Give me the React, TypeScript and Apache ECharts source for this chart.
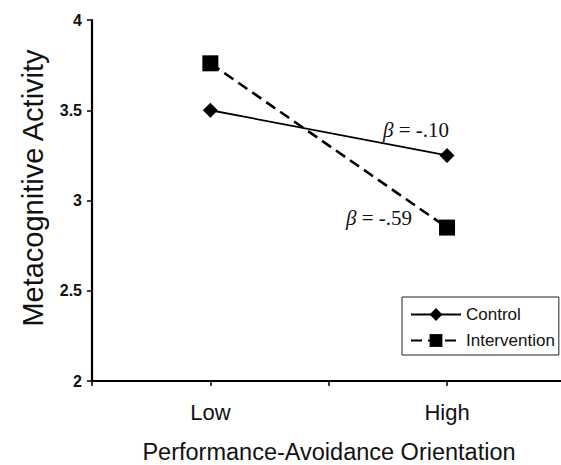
import React, { useEffect, useRef } from "react";
import * as echarts from "echarts";

const categories = ["Low", "High"];
const categoryPositions = [1, 3];
const controlValues = [3.5, 3.25];
const interventionValues = [3.76, 2.85];
const yTicks = [2, 2.5, 3, 3.5, 4];
const seriesNames = ["Control", "Intervention"];
const betaLabels = ["-.10", "-.59"];

const SANS = "'Liberation Sans', Arial, sans-serif";
const SERIF = "'Liberation Serif', 'Times New Roman', serif";

export default function App() {
  const ref = useRef<HTMLDivElement>(null);
  useEffect(() => {
    if (!ref.current) return;
    const chart = echarts.init(ref.current, undefined, { renderer: "svg" });
    const toPairs = (vals: number[]) => vals.map((v, i) => [categoryPositions[i], v]);
    chart.setOption({
      animation: false,
      backgroundColor: "#ffffff",
      grid: { left: 92, right: 0, top: 20, bottom: 84 },
      xAxis: {
        type: "value",
        min: 0,
        max: 3.963,
        interval: 1,
        axisLine: { show: true, lineStyle: { color: "#000", width: 2.2 } },
        axisTick: { show: true, length: 5, lineStyle: { color: "#000", width: 1.5 } },
        splitLine: { show: false },
        axisLabel: {
          margin: 20,
          fontSize: 22,
          fontWeight: 500,
          fontFamily: SANS,
          color: "#111",
          showMaxLabel: false,
          formatter: (v: number) => {
            const idx = categoryPositions.indexOf(Math.round(v));
            return idx >= 0 && Math.abs(v - Math.round(v)) < 1e-6 ? categories[idx] : "";
          },
        },
      },
      yAxis: {
        type: "value",
        min: yTicks[0],
        max: yTicks[yTicks.length - 1],
        interval: 0.5,
        axisLine: { show: true, lineStyle: { color: "#000", width: 2.2 } },
        axisTick: { show: true, length: 5, lineStyle: { color: "#000", width: 1.5 } },
        splitLine: { show: false },
        axisLabel: {
          margin: 10,
          fontSize: 16,
          fontWeight: 700,
          fontFamily: SANS,
          color: "#111",
          formatter: (v: number) => String(v),
        },
      },
      legend: {
        orient: "vertical",
        left: 402,
        top: 297,
        data: seriesNames,
        borderColor: "#222",
        borderWidth: 1,
        padding: [9, 4, 6, 8],
        itemWidth: 50,
        itemHeight: 16,
        itemGap: 9,
        textStyle: { fontSize: 17, fontFamily: SANS, color: "#111" },
      },
      series: [
        {
          name: seriesNames[0],
          type: "line",
          data: toPairs(controlValues),
          symbol: "diamond",
          symbolSize: 15,
          itemStyle: { color: "#000" },
          lineStyle: { color: "#000", width: 1.8, type: "solid" },
        },
        {
          name: seriesNames[1],
          type: "line",
          data: toPairs(interventionValues),
          symbol: "rect",
          symbolSize: 16,
          itemStyle: { color: "#000" },
          lineStyle: { color: "#000", width: 2.6, type: [11, 6] },
        },
      ],
      graphic: [
        {
          type: "text",
          x: 33,
          y: 188,
          rotation: Math.PI / 2,
          style: {
            text: "Metacognitive Activity",
            fontSize: 29,
            fontFamily: SANS,
            fill: "#111",
            align: "center",
            verticalAlign: "middle",
          },
        },
        {
          type: "text",
          x: 329,
          y: 452,
          style: {
            text: "Performance-Avoidance Orientation",
            fontSize: 23.5,
            fontFamily: SANS,
            fill: "#111",
            align: "center",
            verticalAlign: "middle",
          },
        },
        {
          type: "text",
          x: 383,
          y: 130,
          style: {
            text: "{b|β} = " + betaLabels[0],
            fontSize: 21,
            fontFamily: SERIF,
            fill: "#111",
            align: "left",
            verticalAlign: "middle",
            rich: { b: { fontStyle: "italic", fontSize: 21, fontFamily: SERIF, fill: "#111" } },
          },
        },
        {
          type: "text",
          x: 346,
          y: 218,
          style: {
            text: "{b|β} = " + betaLabels[1],
            fontSize: 21,
            fontFamily: SERIF,
            fill: "#111",
            align: "left",
            verticalAlign: "middle",
            rich: { b: { fontStyle: "italic", fontSize: 21, fontFamily: SERIF, fill: "#111" } },
          },
        },
      ],
    });
    return () => chart.dispose();
  }, []);
  return (
    <div
      ref={ref}
      style={{ position: "absolute", left: 0, top: 0, width: 561, height: 465, background: "#fff" }}
    />
  );
}
